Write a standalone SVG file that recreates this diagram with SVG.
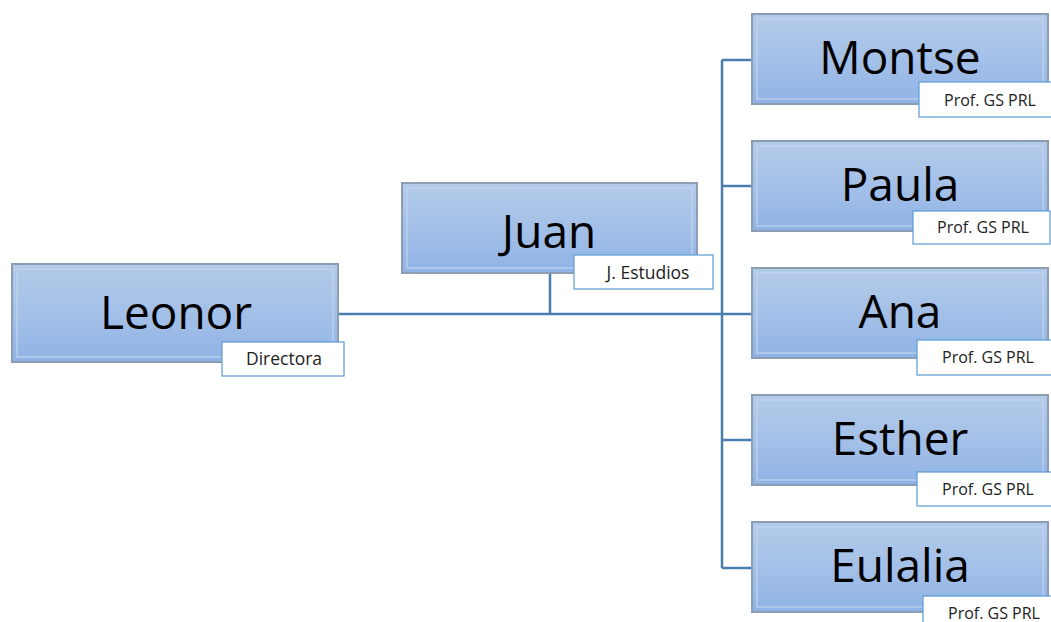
<svg xmlns="http://www.w3.org/2000/svg" width="1051" height="622" viewBox="0 0 1051 622">
<defs>
<linearGradient id="g" x1="0" y1="0" x2="0" y2="1">
<stop offset="0" stop-color="#b3cbe9"/>
<stop offset="0.5" stop-color="#a4c0e8"/>
<stop offset="1" stop-color="#8fb3e6"/>
</linearGradient>
<style>
.box{fill:url(#g);stroke:#8c9cb2;stroke-width:2}
.bev{fill:none;stroke:#c2d4ec;stroke-width:1.5;opacity:0.8}
.name{font-family:"Open Sans","Liberation Sans",sans-serif;font-size:46px;fill:#000;text-anchor:middle}
.lab{fill:#fff;stroke:#5b9bd5;stroke-width:1.2}
.lt{font-family:"Open Sans","Liberation Sans",sans-serif;font-size:16px;fill:#222;text-anchor:middle}
.lt2{font-size:17.5px}
.con{fill:none;stroke:#4a7db0;stroke-width:2.5}
</style>
</defs>
<g id="connectors">
<path class="con" d="M338 314 H752"/>
<path class="con" d="M550 273 V314"/>
<path class="con" d="M722 60 V568"/>
<path class="con" d="M722 60 H752 M722 186 H752 M722 440 H752 M722 568 H752"/>
</g>
<g id="leonor">
<rect class="box" x="12" y="264" width="326" height="98"/>
<rect class="bev" x="17" y="269" width="316" height="88"/>
<text class="name" x="176" y="329">Leonor</text>
<rect class="lab" x="222" y="342" width="122" height="34"/>
<text class="lt lt2" x="284" y="365">Directora</text>
</g>
<g id="juan">
<rect class="box" x="402" y="183" width="295" height="90"/>
<rect class="bev" x="407" y="188" width="285" height="80"/>
<text class="name" x="549" y="248">Juan</text>
<rect class="lab" x="574" y="255" width="139" height="34"/>
<text class="lt lt2" x="648" y="279">J. Estudios</text>
</g>
<g id="montse">
<rect class="box" x="752" y="14" width="296" height="90"/>
<rect class="bev" x="757" y="19" width="286" height="80"/>
<text class="name" x="900" y="74">Montse</text>
<rect class="lab" x="919" y="82" width="134" height="35"/>
<text class="lt" x="990" y="106">Prof. GS PRL</text>
</g>
<g id="paula">
<rect class="box" x="752" y="141" width="296" height="90"/>
<rect class="bev" x="757" y="146" width="286" height="80"/>
<text class="name" x="900" y="201">Paula</text>
<rect class="lab" x="913" y="211" width="137" height="33"/>
<text class="lt" x="983" y="233">Prof. GS PRL</text>
</g>
<g id="ana">
<rect class="box" x="752" y="268" width="296" height="90"/>
<rect class="bev" x="757" y="273" width="286" height="80"/>
<text class="name" x="900" y="328">Ana</text>
<rect class="lab" x="917" y="340" width="136" height="35"/>
<text class="lt" x="988" y="363">Prof. GS PRL</text>
</g>
<g id="esther">
<rect class="box" x="752" y="395" width="296" height="90"/>
<rect class="bev" x="757" y="400" width="286" height="80"/>
<text class="name" x="900" y="455">Esther</text>
<rect class="lab" x="917" y="472" width="136" height="34"/>
<text class="lt" x="988" y="495">Prof. GS PRL</text>
</g>
<g id="eulalia">
<rect class="box" x="752" y="522" width="296" height="90"/>
<rect class="bev" x="757" y="527" width="286" height="80"/>
<text class="name" x="900" y="582">Eulalia</text>
<rect class="lab" x="923" y="596" width="130" height="34"/>
<text class="lt" x="994" y="619">Prof. GS PRL</text>
</g>
</svg>
